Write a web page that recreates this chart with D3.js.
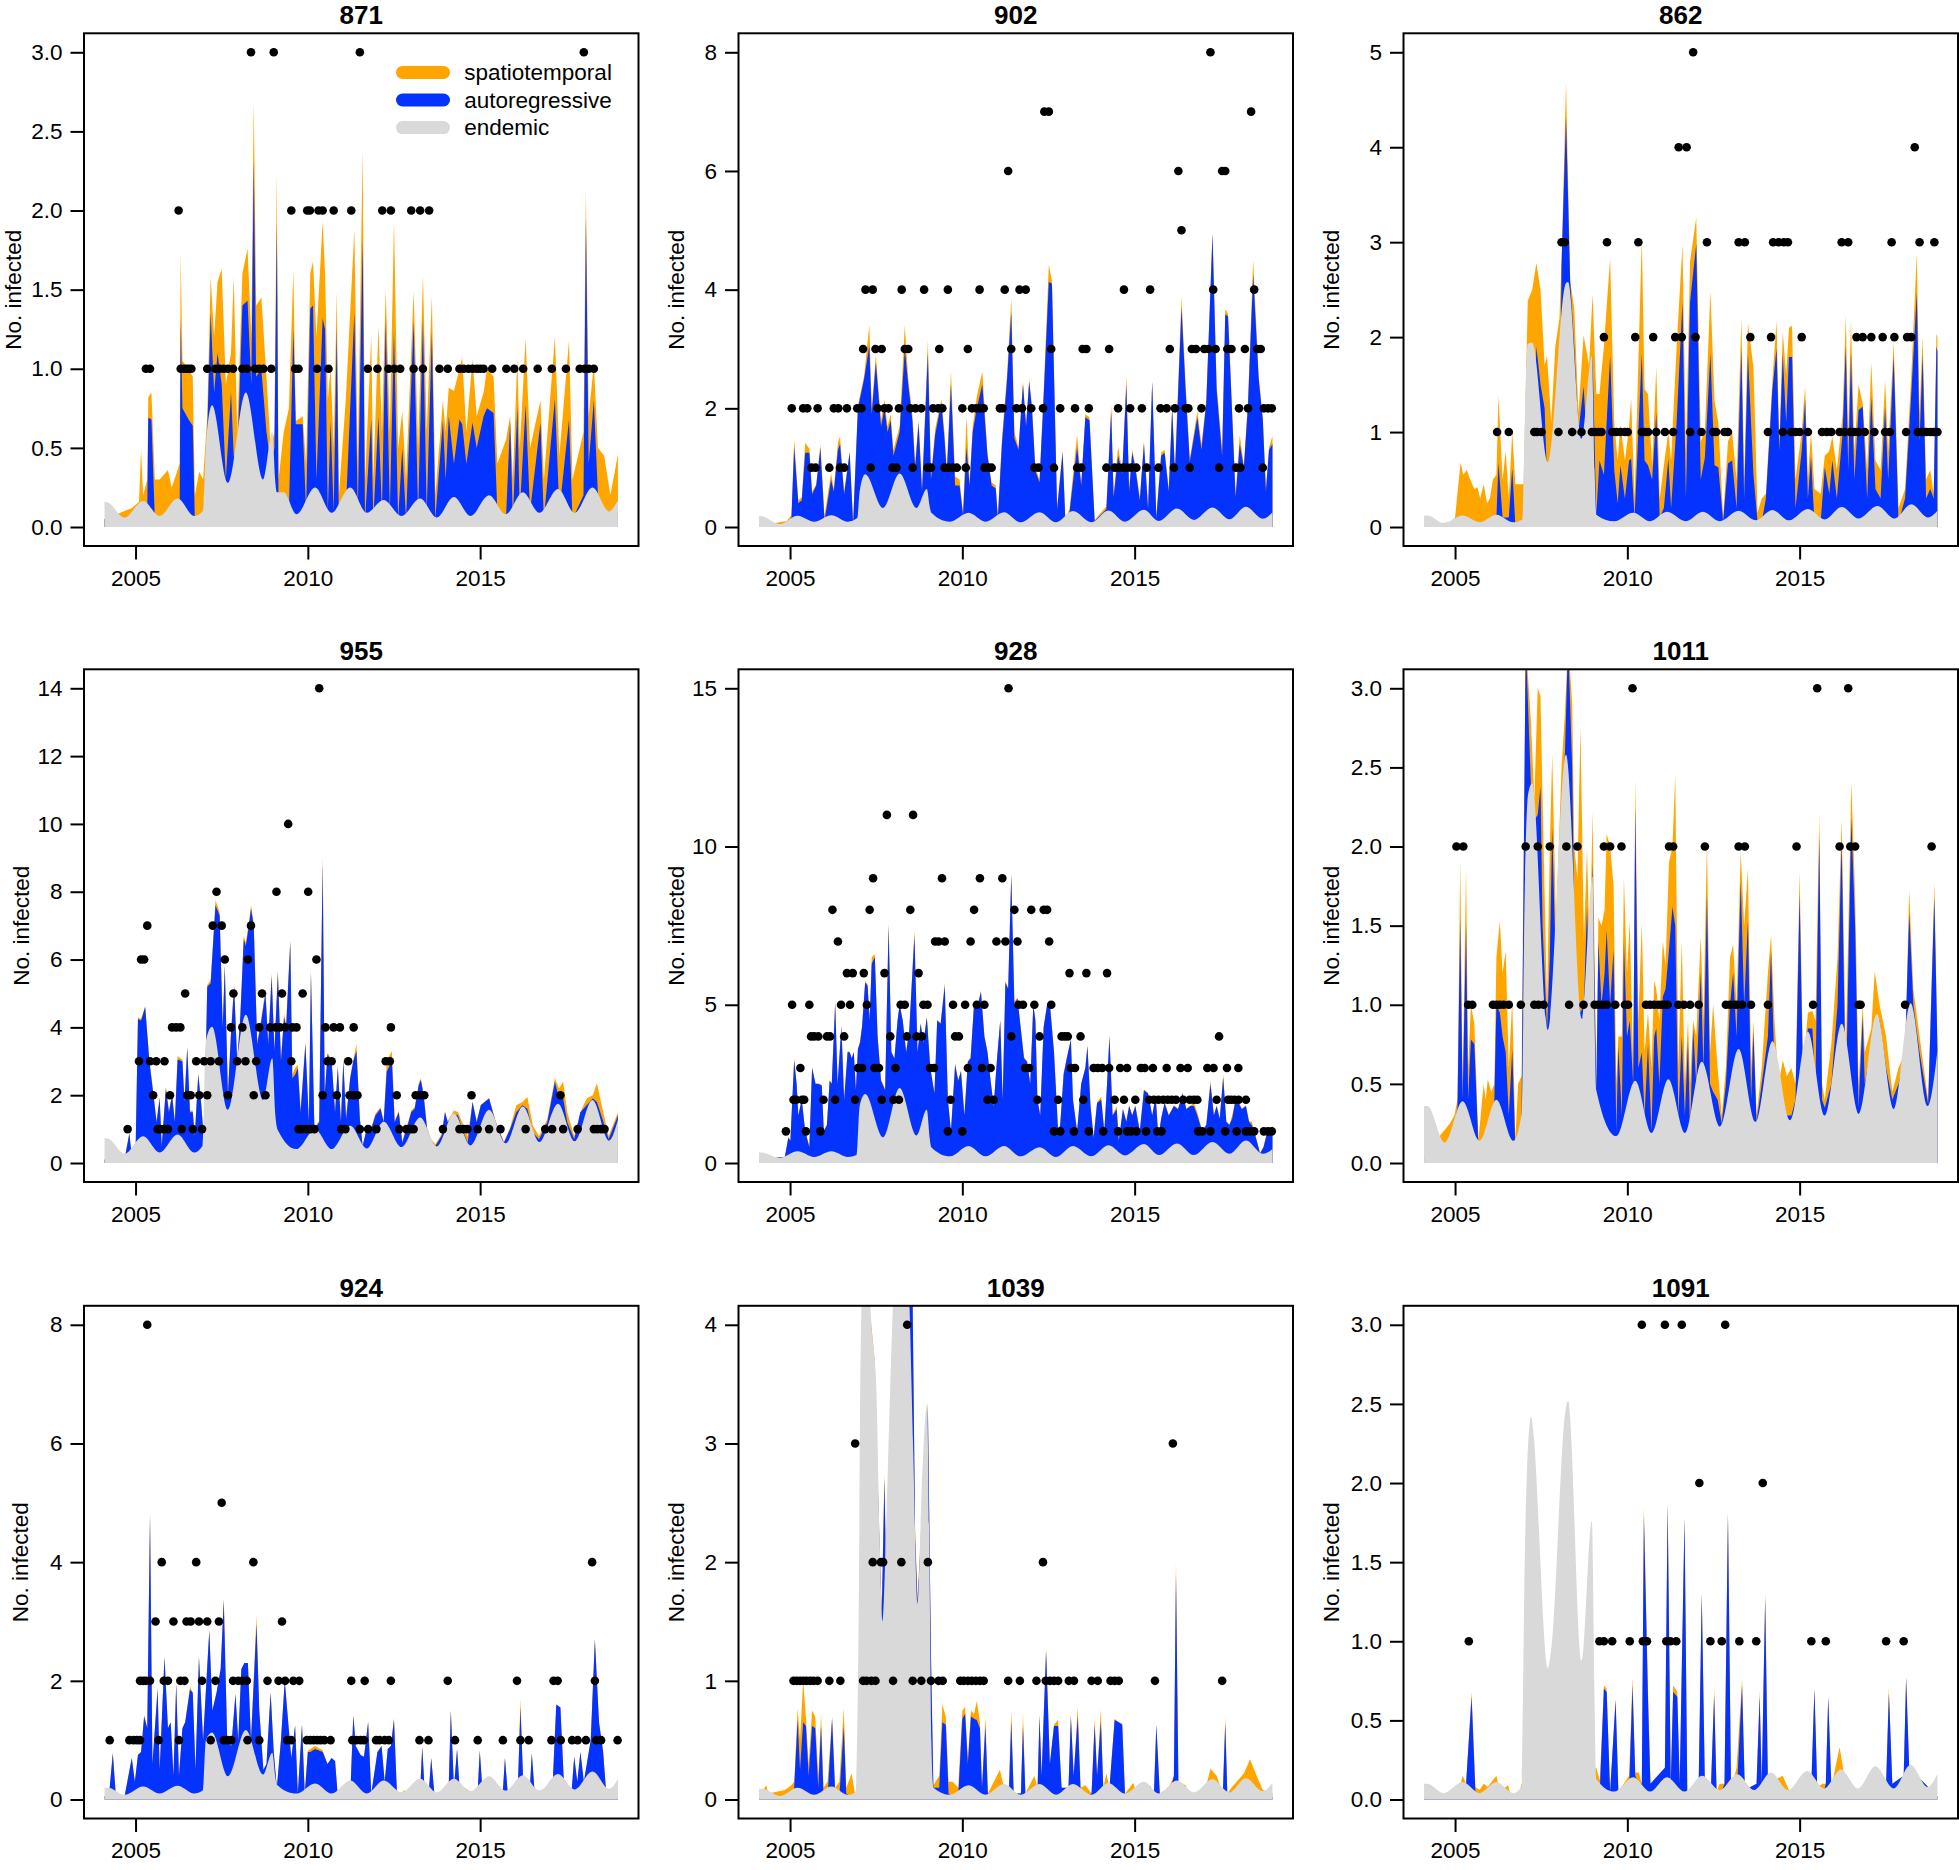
<!DOCTYPE html>
<html><head><meta charset="utf-8">
<script src="https://cdn.jsdelivr.net/npm/d3@7"></script>
<style>
body{margin:0;background:#fff}
svg{display:block}
text{font-family:"Liberation Sans",Arial,Helvetica,sans-serif;fill:#000}
</style>
</head><body>
<svg id="chart" width="1959" height="1870"></svg>
<script>
// ---------------- DATA ----------------
// endemic component: [year, value]
const endemic871=[[2004.1,0.16],[2004.2,0.155],[2004.68,0.06],[2005.22,0.165],[2005.7,0.07],[2006.22,0.18],[2006.7,0.07],[2006.95,0.1],[2007.05,0.55],[2007.22,0.77],[2007.68,0.28],[2008.2,0.85],[2008.7,0.3],[2008.97,0.6],[2009.05,0.3],[2009.1,0.22],[2009.3,0.22],[2009.67,0.08],[2010.21,0.25],[2010.69,0.09],[2011.23,0.25],[2011.71,0.09],[2012.2,0.17],[2012.72,0.07],[2013.26,0.18],[2013.74,0.06],[2014.24,0.19],[2014.72,0.07],[2015.26,0.2],[2015.74,0.08],[2016.24,0.22],[2016.72,0.09],[2017.26,0.24],[2017.74,0.09],[2018.26,0.25],[2018.74,0.1],[2019.0,0.17]];
const endemic902=[[2004.1,0.19],[2004.2,0.18],[2004.7,0.05],[2005.22,0.19],[2005.7,0.09],[2006.2,0.2],[2006.68,0.09],[2006.95,0.15],[2007.02,0.6],[2007.18,0.89],[2007.7,0.32],[2008.18,0.9],[2008.67,0.32],[2008.97,0.64],[2009.05,0.35],[2009.1,0.24],[2009.64,0.09],[2010.18,0.24],[2010.67,0.09],[2011.21,0.25],[2011.69,0.08],[2012.24,0.25],[2012.72,0.08],[2013.21,0.27],[2013.75,0.08],[2014.24,0.28],[2014.72,0.09],[2015.27,0.29],[2015.7,0.1],[2016.23,0.31],[2016.72,0.12],[2017.26,0.33],[2017.75,0.13],[2018.23,0.34],[2018.72,0.14],[2019.0,0.25]];
const endemic862=[[2004.1,0.12],[2004.2,0.12],[2004.67,0.04],[2005.22,0.12],[2005.71,0.05],[2006.2,0.13],[2006.69,0.05],[2006.95,0.08],[2007.03,1.2],[2007.11,1.93],[2007.24,1.94],[2007.69,0.68],[2008.22,2.57],[2008.28,2.58],[2008.67,0.93],[2008.97,1.8],[2009.05,0.6],[2009.1,0.13],[2009.62,0.06],[2010.17,0.15],[2010.66,0.06],[2011.15,0.16],[2011.7,0.06],[2012.19,0.16],[2012.68,0.06],[2013.23,0.17],[2013.72,0.07],[2014.21,0.18],[2014.69,0.07],[2015.24,0.19],[2015.73,0.08],[2016.22,0.21],[2016.71,0.09],[2017.26,0.22],[2017.75,0.09],[2018.24,0.24],[2018.73,0.1],[2019.0,0.17]];
const endemic955=[[2004.1,0.73],[2004.2,0.72],[2004.68,0.27],[2005.22,0.79],[2005.7,0.31],[2006.22,0.84],[2006.7,0.31],[2006.95,0.52],[2007.04,3.6],[2007.22,4.02],[2007.68,1.57],[2008.2,4.37],[2008.7,1.86],[2008.97,3.09],[2009.05,1.5],[2009.12,0.99],[2009.67,0.41],[2010.21,0.99],[2010.69,0.41],[2011.23,1.1],[2011.71,0.43],[2012.2,1.22],[2012.72,0.47],[2013.26,1.34],[2013.74,0.49],[2014.24,1.46],[2014.72,0.52],[2015.26,1.57],[2015.74,0.58],[2016.24,1.67],[2016.72,0.62],[2017.26,1.75],[2017.74,0.64],[2018.26,1.86],[2018.74,0.66],[2019.0,1.28]];
const endemic928=[[2004.1,0.34],[2004.2,0.33],[2004.7,0.16],[2005.22,0.37],[2005.7,0.19],[2006.2,0.37],[2006.68,0.19],[2006.93,0.25],[2007.02,1.8],[2007.18,2.18],[2007.7,0.81],[2008.18,2.37],[2008.67,0.87],[2008.97,1.68],[2009.05,0.8],[2009.1,0.5],[2009.64,0.21],[2010.18,0.54],[2010.67,0.21],[2011.21,0.54],[2011.69,0.21],[2012.24,0.5],[2012.72,0.19],[2013.21,0.54],[2013.75,0.21],[2014.24,0.56],[2014.72,0.24],[2015.27,0.6],[2015.7,0.25],[2016.23,0.62],[2016.72,0.25],[2017.26,0.66],[2017.75,0.29],[2018.23,0.71],[2018.72,0.29],[2019.0,0.44]];
const endemic1011=[[2004.1,0.36],[2004.2,0.36],[2004.7,0.13],[2005.22,0.39],[2005.71,0.14],[2006.2,0.4],[2006.69,0.14],[2006.93,0.31],[2007.03,1.8],[2007.12,2.33],[2007.24,2.4],[2007.69,0.84],[2008.22,2.58],[2008.68,0.91],[2008.99,1.81],[2009.05,0.9],[2009.1,0.46],[2009.68,0.17],[2010.23,0.52],[2010.7,0.19],[2011.19,0.53],[2011.67,0.19],[2012.16,0.64],[2012.69,0.23],[2013.23,0.72],[2013.72,0.26],[2014.21,0.77],[2014.72,0.27],[2015.24,0.83],[2015.73,0.3],[2016.22,0.88],[2016.72,0.31],[2017.24,0.94],[2017.73,0.34],[2018.22,1.01],[2018.71,0.36],[2019.0,0.71]];
const endemic924=[[2004.1,0.2],[2004.2,0.2],[2004.68,0.08],[2005.22,0.22],[2005.7,0.1],[2006.22,0.23],[2006.7,0.1],[2006.95,0.15],[2007.04,1.0],[2007.22,1.13],[2007.68,0.39],[2008.2,1.17],[2008.7,0.42],[2008.97,0.79],[2009.05,0.4],[2009.1,0.25],[2009.67,0.1],[2010.21,0.27],[2010.69,0.1],[2011.23,0.32],[2011.71,0.1],[2012.2,0.32],[2012.72,0.12],[2013.26,0.35],[2013.74,0.12],[2014.24,0.35],[2014.72,0.14],[2015.26,0.39],[2015.74,0.15],[2016.24,0.41],[2016.72,0.15],[2017.26,0.43],[2017.74,0.17],[2018.26,0.47],[2018.74,0.18],[2019.0,0.35]];
const endemic1039=[[2004.1,0.09],[2004.2,0.09],[2004.7,0.03],[2005.22,0.1],[2005.7,0.04],[2006.2,0.11],[2006.68,0.04],[2006.9,0.06],[2006.99,1.5],[2007.05,3.8],[2007.15,4.7],[2007.25,4.6],[2007.36,4.0],[2007.5,3.5],[2007.6,2.2],[2007.68,1.5],[2007.8,2.4],[2007.92,3.6],[2008.1,4.8],[2008.3,4.9],[2008.45,4.3],[2008.57,3.0],[2008.7,1.65],[2008.82,2.6],[2008.98,3.33],[2009.04,2.2],[2009.1,0.5],[2009.16,0.1],[2009.64,0.04],[2010.18,0.12],[2010.67,0.04],[2011.21,0.13],[2011.69,0.04],[2012.24,0.13],[2012.72,0.04],[2013.21,0.13],[2013.75,0.04],[2014.24,0.14],[2014.72,0.05],[2015.27,0.15],[2015.7,0.05],[2016.23,0.16],[2016.72,0.06],[2017.26,0.17],[2017.75,0.06],[2018.23,0.18],[2018.72,0.07],[2019.0,0.14]];
const endemic1091=[[2004.1,0.1],[2004.2,0.1],[2004.67,0.04],[2005.22,0.11],[2005.71,0.04],[2006.2,0.11],[2006.69,0.04],[2006.93,0.08],[2007.03,1.6],[2007.11,2.2],[2007.21,2.42],[2007.28,2.3],[2007.69,0.83],[2007.79,0.95],[2008.2,2.45],[2008.28,2.52],[2008.67,0.88],[2008.97,1.76],[2009.05,0.6],[2009.1,0.13],[2009.62,0.05],[2010.17,0.14],[2010.66,0.05],[2011.15,0.14],[2011.66,0.05],[2012.17,0.15],[2012.68,0.06],[2013.19,0.16],[2013.68,0.06],[2014.17,0.17],[2014.66,0.06],[2015.22,0.18],[2015.71,0.07],[2016.2,0.19],[2016.69,0.07],[2017.2,0.21],[2017.73,0.07],[2018.22,0.22],[2018.71,0.08],[2019.0,0.16]];

// stacked upper edges: [year, endemic+autoregressive, endemic+autoregressive+spatiotemporal]
const upper871=[[2004.1,0.05,0.05],[2004.9,0.06,0.12],[2005.1,0.08,0.16],[2005.16,0.1,0.49],[2005.22,0.1,0.2],[2005.34,0.1,0.3],[2005.37,0.69,0.82],[2005.46,0.68,0.85],[2005.56,0.05,0.3],[2005.7,0.05,0.3],[2005.94,0.05,0.36],[2006.05,0.05,0.25],[2006.28,0.1,0.4],[2006.31,1.31,1.73],[2006.36,0.75,1.05],[2006.54,0.68,1.0],[2006.66,0.64,0.95],[2006.72,0.05,0.2],[2006.85,0.05,0.35],[2006.96,0.05,0.3],[2007.08,0.6,0.7],[2007.18,1.35,1.58],[2007.28,0.85,1.2],[2007.38,1.1,1.55],[2007.5,0.9,1.63],[2007.62,0.3,0.9],[2007.77,0.85,1.1],[2007.85,0.45,1.58],[2007.95,0.4,0.6],[2008.1,1.4,1.6],[2008.25,1.43,1.76],[2008.36,0.9,1.2],[2008.43,2.32,2.69],[2008.5,0.95,1.4],[2008.65,1.0,1.45],[2008.8,0.6,0.95],[2008.92,0.4,0.5],[2009.03,0.5,0.6],[2009.1,1.92,2.25],[2009.15,0.1,0.3],[2009.3,0.1,0.6],[2009.45,0.1,0.75],[2009.58,1.25,1.62],[2009.65,0.65,0.67],[2009.85,0.65,0.7],[2009.95,0.1,0.4],[2010.07,1.38,1.6],[2010.15,1.4,1.68],[2010.25,0.3,1.2],[2010.43,1.32,1.93],[2010.5,1.25,1.6],[2010.58,0.1,0.8],[2010.66,0.67,1.0],[2010.75,0.1,0.5],[2010.84,1.26,1.49],[2010.9,0.05,0.2],[2011.1,0.1,0.8],[2011.35,1.36,1.88],[2011.45,0.1,0.4],[2011.59,1.83,2.38],[2011.66,0.05,0.3],[2011.84,0.68,1.2],[2011.9,0.05,0.3],[2012.05,0.7,1.27],[2012.15,0.1,0.6],[2012.26,1.31,1.5],[2012.38,0.1,0.6],[2012.5,1.24,1.93],[2012.62,0.05,0.5],[2012.74,0.5,0.73],[2012.85,0.05,0.3],[2013.07,1.3,1.49],[2013.2,0.1,0.5],[2013.34,1.31,1.59],[2013.45,0.1,0.6],[2013.6,1.23,1.46],[2013.7,0.05,0.2],[2013.92,0.67,0.8],[2014.0,0.3,0.6],[2014.09,0.7,0.88],[2014.24,0.4,0.86],[2014.4,0.68,1.0],[2014.48,0.65,1.07],[2014.6,0.4,0.6],[2014.78,0.66,1.06],[2014.9,0.5,0.7],[2015.1,0.7,0.85],[2015.2,0.75,1.0],[2015.39,0.72,0.95],[2015.5,0.1,0.4],[2015.75,0.05,0.55],[2015.87,0.67,0.7],[2015.95,0.05,0.3],[2016.08,0.76,1.07],[2016.15,0.1,0.5],[2016.32,0.77,1.19],[2016.45,0.1,0.5],[2016.75,0.66,0.8],[2016.85,0.05,0.3],[2017.17,0.81,1.2],[2017.3,0.1,0.45],[2017.58,0.68,1.18],[2017.68,0.05,0.3],[2018.0,0.2,0.6],[2018.07,1.95,2.13],[2018.15,0.4,0.7],[2018.3,0.8,1.03],[2018.42,0.2,0.5],[2018.6,0.1,0.45],[2018.78,0.1,0.2],[2019.0,0.1,0.46]];
const upper902=[[2004.1,0.02,0.02],[2004.9,0.05,0.1],[2005.04,0.15,0.2],[2005.12,1.35,1.48],[2005.24,0.4,0.45],[2005.34,0.45,0.5],[2005.44,1.25,1.42],[2005.56,1.25,1.32],[2005.64,0.55,0.6],[2005.76,0.7,0.72],[2005.88,1.33,1.39],[2006.0,0.1,0.2],[2006.19,0.8,0.9],[2006.27,0.6,0.65],[2006.39,1.3,1.42],[2006.45,1.4,1.53],[2006.57,0.55,0.6],[2006.73,1.25,1.28],[2006.83,0.05,0.1],[2006.97,2.0,2.05],[2007.15,2.5,2.55],[2007.3,3.05,3.4],[2007.37,1.9,2.0],[2007.49,2.77,2.9],[2007.64,1.7,1.8],[2007.74,2.0,2.15],[2007.83,1.6,1.7],[2007.92,1.8,1.9],[2008.0,1.2,1.3],[2008.18,1.6,1.7],[2008.33,3.0,3.4],[2008.43,2.4,2.5],[2008.55,1.8,1.9],[2008.63,1.0,1.1],[2008.73,1.75,1.8],[2008.83,0.6,0.65],[2009.0,2.93,3.15],[2009.09,0.8,0.85],[2009.21,1.55,1.65],[2009.39,2.1,2.15],[2009.48,1.5,1.6],[2009.55,0.9,1.0],[2009.67,2.4,2.62],[2009.79,0.7,0.85],[2009.92,0.7,0.8],[2010.02,0.2,0.25],[2010.12,1.35,1.87],[2010.21,0.7,0.75],[2010.3,1.6,1.7],[2010.42,2.0,2.2],[2010.58,2.4,2.62],[2010.73,1.2,1.25],[2010.85,0.7,0.75],[2010.97,0.65,0.7],[2011.03,0.15,0.2],[2011.15,1.4,1.5],[2011.3,2.5,2.6],[2011.42,3.62,3.85],[2011.51,1.5,1.6],[2011.63,1.3,1.35],[2011.76,2.4,2.45],[2011.85,1.7,1.75],[2011.94,2.45,2.5],[2012.02,2.0,2.05],[2012.12,0.95,1.0],[2012.24,0.75,0.8],[2012.36,2.2,2.3],[2012.51,4.13,4.42],[2012.6,4.1,4.15],[2012.75,0.3,0.35],[2012.91,1.25,1.3],[2012.99,0.1,0.15],[2013.11,0.25,0.3],[2013.33,1.35,1.55],[2013.45,0.7,0.75],[2013.57,1.85,1.9],[2013.69,1.8,1.85],[2013.84,0.1,0.12],[2014.18,0.3,0.35],[2014.32,1.95,2.05],[2014.39,0.5,0.55],[2014.52,1.2,1.35],[2014.64,0.9,0.95],[2014.76,2.4,2.55],[2014.84,0.6,0.65],[2014.93,1.25,1.3],[2015.02,1.0,1.05],[2015.15,0.45,0.5],[2015.27,1.4,1.45],[2015.39,0.3,0.35],[2015.51,2.45,2.45],[2015.63,0.15,0.18],[2015.77,1.2,1.25],[2015.87,1.25,1.3],[2015.99,0.6,0.65],[2016.09,2.0,2.05],[2016.17,0.9,1.0],[2016.36,3.7,3.88],[2016.48,2.3,2.4],[2016.6,1.1,1.15],[2016.82,1.85,1.95],[2016.94,1.3,1.4],[2017.08,2.1,2.15],[2017.26,4.93,4.97],[2017.38,2.3,2.4],[2017.54,1.2,1.3],[2017.63,3.58,3.67],[2017.71,3.55,3.6],[2017.83,1.9,1.95],[2017.93,0.5,0.55],[2018.05,1.4,1.55],[2018.17,1.0,1.05],[2018.29,2.05,2.15],[2018.44,4.25,4.5],[2018.6,2.5,2.55],[2018.72,1.8,1.85],[2018.81,0.6,0.65],[2018.9,1.3,1.35],[2019.0,1.4,1.53]];
const upper862=[[2004.1,0.02,0.02],[2004.85,0.02,0.05],[2005.0,0.02,0.1],[2005.16,0.02,0.68],[2005.24,0.02,0.55],[2005.34,0.02,0.6],[2005.44,0.02,0.5],[2005.56,0.02,0.4],[2005.65,0.02,0.42],[2005.73,0.02,0.3],[2005.83,0.02,0.45],[2005.93,0.02,0.25],[2006.01,0.02,0.3],[2006.1,0.02,0.5],[2006.2,0.1,0.55],[2006.26,0.68,1.38],[2006.38,0.1,0.5],[2006.47,0.1,0.8],[2006.56,0.1,0.3],[2006.66,0.62,1.0],[2006.75,0.02,0.45],[2006.93,0.02,0.45],[2006.99,0.02,0.45],[2007.11,0.5,2.38],[2007.24,0.5,2.5],[2007.36,1.9,2.78],[2007.48,1.5,2.5],[2007.6,1.25,1.7],[2007.67,0.5,1.8],[2007.79,0.5,1.1],[2007.91,0.5,1.9],[2008.03,0.5,2.2],[2008.09,2.75,2.8],[2008.22,4.32,4.68],[2008.34,2.6,2.6],[2008.46,1.9,2.3],[2008.58,1.0,1.2],[2008.73,1.48,2.02],[2008.89,0.5,1.7],[2008.99,1.8,2.45],[2009.1,0.13,1.4],[2009.19,0.7,1.4],[2009.32,0.55,1.9],[2009.5,1.8,2.83],[2009.62,0.6,1.1],[2009.72,0.25,0.7],[2009.8,0.65,1.08],[2009.93,0.3,0.7],[2010.05,0.7,1.05],[2010.11,0.72,1.35],[2010.21,0.1,0.3],[2010.42,1.83,3.05],[2010.5,0.7,1.45],[2010.6,0.65,1.4],[2010.72,0.5,0.65],[2010.84,1.2,1.68],[2010.94,0.1,0.3],[2011.06,0.2,0.65],[2011.19,0.72,1.0],[2011.27,0.2,0.7],[2011.43,1.1,1.9],[2011.6,2.37,2.97],[2011.7,0.3,0.8],[2011.82,2.37,2.8],[2012.0,2.98,3.26],[2012.13,0.5,0.9],[2012.25,0.73,1.0],[2012.41,1.83,2.48],[2012.53,0.65,1.33],[2012.64,0.63,1.1],[2012.78,0.06,0.1],[2012.92,0.67,0.9],[2013.04,0.7,1.0],[2013.17,0.2,0.5],[2013.31,1.88,2.2],[2013.39,0.3,0.5],[2013.5,1.82,2.15],[2013.66,0.55,1.68],[2013.78,0.05,0.15],[2013.9,0.05,0.3],[2014.02,0.3,0.35],[2014.21,1.45,1.55],[2014.33,1.88,2.17],[2014.41,0.8,0.9],[2014.51,1.82,2.05],[2014.61,1.1,1.6],[2014.69,1.79,2.1],[2014.78,1.79,2.12],[2014.88,0.2,0.5],[2015.06,0.8,1.0],[2015.16,1.34,1.48],[2015.24,0.3,0.5],[2015.33,0.74,1.0],[2015.43,0.05,0.4],[2015.61,0.05,0.35],[2015.73,0.63,0.75],[2015.86,0.35,0.8],[2015.95,0.7,0.95],[2016.08,0.3,0.6],[2016.25,1.0,1.2],[2016.34,1.9,2.23],[2016.41,0.6,1.0],[2016.49,1.83,2.17],[2016.59,0.5,0.8],[2016.71,1.23,1.5],[2016.83,1.27,1.3],[2016.96,0.3,0.6],[2017.08,1.37,1.73],[2017.2,0.4,0.7],[2017.35,0.3,0.6],[2017.48,1.27,1.54],[2017.57,0.5,0.8],[2017.73,1.8,1.95],[2017.87,0.05,0.2],[2018.06,0.3,0.4],[2018.24,1.4,1.6],[2018.4,2.47,2.88],[2018.48,0.9,1.2],[2018.57,1.82,2.0],[2018.67,0.3,0.5],[2018.79,0.4,0.6],[2018.89,0.3,0.35],[2018.97,1.9,2.03],[2019.0,1.85,2.0]];
const upper955=[[2004.1,0.1,0.1],[2004.68,0.1,0.1],[2004.82,0.87,0.9],[2004.89,0.2,0.2],[2005.0,0.3,0.3],[2005.07,4.25,4.3],[2005.16,4.2,4.25],[2005.28,4.6,4.62],[2005.4,3.0,3.05],[2005.52,2.0,2.05],[2005.61,1.2,1.25],[2005.7,1.9,1.95],[2005.76,0.5,0.5],[2005.88,2.2,2.25],[2005.97,1.5,1.55],[2006.06,2.0,2.05],[2006.14,1.2,1.25],[2006.22,3.05,3.15],[2006.36,3.0,3.05],[2006.42,1.8,1.85],[2006.5,3.4,3.45],[2006.58,1.5,1.55],[2006.66,1.5,1.55],[2006.72,0.8,0.85],[2006.82,2.6,2.65],[2006.9,1.8,1.85],[2006.99,0.6,0.65],[2007.08,5.2,5.25],[2007.18,5.3,5.4],[2007.32,7.6,7.75],[2007.44,7.3,7.4],[2007.53,4.0,4.1],[2007.59,5.8,5.9],[2007.68,2.0,2.05],[2007.77,3.8,3.9],[2007.86,5.2,5.3],[2007.95,3.0,3.05],[2008.04,4.3,4.35],[2008.14,6.6,6.7],[2008.2,6.4,6.5],[2008.29,7.0,7.1],[2008.35,7.5,7.6],[2008.43,7.0,7.1],[2008.53,3.5,3.6],[2008.62,4.0,4.1],[2008.77,5.0,5.1],[2008.85,3.5,3.6],[2008.95,5.5,5.6],[2009.03,3.3,3.4],[2009.13,5.6,5.7],[2009.22,3.0,3.1],[2009.31,4.3,4.4],[2009.37,4.0,4.1],[2009.49,6.5,6.6],[2009.55,2.5,2.6],[2009.63,2.6,2.8],[2009.71,2.8,2.9],[2009.79,1.5,1.6],[2009.93,3.5,3.6],[2010.03,1.2,1.25],[2010.09,5.6,5.7],[2010.19,1.0,1.05],[2010.33,1.2,1.25],[2010.43,8.85,9.05],[2010.49,2.0,2.05],[2010.57,3.2,3.25],[2010.69,3.0,3.05],[2010.79,1.5,1.55],[2010.87,2.8,2.9],[2010.96,1.2,1.25],[2011.03,3.0,3.05],[2011.11,1.3,1.35],[2011.23,2.5,2.55],[2011.32,3.0,3.05],[2011.41,3.3,3.5],[2011.51,1.3,1.35],[2011.59,0.5,0.5],[2011.71,1.0,1.05],[2011.81,0.9,0.95],[2011.96,1.4,1.45],[2012.11,1.6,1.65],[2012.2,1.2,1.25],[2012.29,2.7,3.0],[2012.44,3.0,3.3],[2012.52,1.2,1.25],[2012.64,1.5,1.55],[2012.74,0.6,0.65],[2012.92,1.2,1.25],[2013.0,1.5,1.55],[2013.1,1.6,1.65],[2013.22,2.3,2.35],[2013.28,2.45,2.5],[2013.36,2.0,2.05],[2013.46,1.0,1.05],[2013.58,0.6,0.7],[2013.7,0.5,0.55],[2013.88,0.8,0.85],[2013.98,1.5,1.52],[2014.06,1.2,1.25],[2014.24,1.45,1.55],[2014.36,1.4,1.5],[2014.48,1.0,1.2],[2014.64,0.6,0.8],[2014.78,1.8,1.82],[2014.9,1.2,1.25],[2015.02,1.7,1.72],[2015.26,1.9,1.92],[2015.45,1.2,1.25],[2015.69,0.6,0.62],[2015.87,1.0,1.05],[2016.05,1.5,1.7],[2016.23,1.7,1.8],[2016.37,1.6,1.95],[2016.53,0.9,1.1],[2016.71,0.7,0.8],[2016.95,1.2,1.3],[2017.17,2.4,2.5],[2017.29,1.9,2.2],[2017.41,1.9,2.4],[2017.53,1.2,1.5],[2017.73,0.7,0.8],[2017.91,1.5,1.5],[2018.09,1.7,1.9],[2018.27,1.9,2.0],[2018.39,1.8,2.35],[2018.55,1.3,1.6],[2018.73,0.7,0.8],[2019.0,1.4,1.5]];
const upper928=[[2004.1,0.1,0.1],[2004.85,0.2,0.2],[2004.95,0.8,0.82],[2005.01,0.7,0.72],[2005.12,3.25,3.3],[2005.19,2.5,2.52],[2005.24,1.5,1.52],[2005.34,2.0,2.02],[2005.44,1.0,1.02],[2005.56,0.5,0.52],[2005.64,3.0,3.02],[2005.74,2.5,2.52],[2005.82,2.5,2.52],[2005.92,2.45,2.47],[2005.98,1.0,1.02],[2006.07,1.2,1.22],[2006.15,2.6,2.62],[2006.21,2.5,2.52],[2006.31,5.05,5.15],[2006.38,2.5,2.52],[2006.49,4.3,4.35],[2006.57,2.0,2.02],[2006.67,3.5,3.52],[2006.73,3.5,3.52],[2006.79,3.3,3.32],[2006.85,3.5,3.52],[2006.91,2.3,2.32],[2006.97,3.6,3.62],[2007.03,3.8,3.85],[2007.09,4.3,4.35],[2007.18,5.7,5.75],[2007.25,5.6,5.65],[2007.31,4.5,4.55],[2007.37,6.3,6.5],[2007.46,6.5,6.6],[2007.54,4.0,4.05],[2007.64,2.6,2.65],[2007.76,2.3,2.35],[2007.86,7.5,7.55],[2007.94,3.5,3.52],[2008.03,3.3,3.32],[2008.12,4.5,4.52],[2008.18,5.0,5.02],[2008.27,4.5,4.52],[2008.37,3.5,3.52],[2008.46,4.2,4.22],[2008.61,7.2,7.35],[2008.7,3.5,3.52],[2008.79,4.4,4.42],[2008.87,3.8,3.82],[2008.97,4.6,4.62],[2009.07,3.0,3.02],[2009.19,2.2,2.22],[2009.27,4.5,4.52],[2009.37,4.4,4.42],[2009.49,5.6,5.7],[2009.58,2.0,2.02],[2009.67,1.0,1.02],[2009.79,3.1,3.15],[2009.88,2.6,2.62],[2009.96,2.9,2.92],[2010.06,1.5,1.52],[2010.16,3.2,3.22],[2010.24,3.3,3.35],[2010.34,5.0,5.1],[2010.45,5.0,5.02],[2010.54,5.4,5.45],[2010.64,4.0,4.02],[2010.73,3.5,3.52],[2010.82,2.6,2.62],[2010.91,1.8,1.82],[2011.0,3.2,3.22],[2011.1,4.5,4.52],[2011.17,2.0,2.02],[2011.25,5.7,5.75],[2011.33,5.5,5.52],[2011.42,9.1,9.15],[2011.51,5.0,5.1],[2011.6,5.2,5.22],[2011.69,4.3,4.32],[2011.79,3.3,3.35],[2011.88,3.2,3.22],[2011.97,2.5,2.52],[2012.06,5.0,5.02],[2012.12,4.5,4.52],[2012.18,2.0,2.02],[2012.26,1.5,1.52],[2012.36,4.3,4.32],[2012.46,5.0,5.02],[2012.54,5.0,5.1],[2012.66,3.5,3.52],[2012.78,1.0,1.02],[2012.84,1.2,1.22],[2012.94,2.8,2.85],[2013.03,3.3,3.32],[2013.15,3.9,3.92],[2013.21,2.0,2.02],[2013.33,1.0,1.02],[2013.45,2.5,2.52],[2013.57,3.0,3.02],[2013.63,3.7,3.72],[2013.72,1.8,1.82],[2013.81,0.8,0.82],[2013.91,1.9,1.92],[2014.03,2.0,2.1],[2014.12,1.0,1.02],[2014.2,2.5,2.52],[2014.27,4.0,4.05],[2014.36,1.5,1.52],[2014.48,1.7,1.8],[2014.54,0.7,0.72],[2014.66,1.7,1.72],[2014.76,1.3,1.32],[2014.84,1.8,1.82],[2014.93,1.5,1.52],[2015.02,1.8,1.82],[2015.15,1.0,1.02],[2015.27,2.3,2.32],[2015.39,2.2,2.22],[2015.51,1.5,1.52],[2015.61,2.1,2.12],[2015.69,0.8,0.82],[2015.77,1.4,1.42],[2015.87,1.9,1.92],[2015.99,1.5,1.52],[2016.14,1.8,1.82],[2016.26,1.7,1.72],[2016.39,2.2,2.22],[2016.5,1.7,1.72],[2016.62,1.8,1.82],[2016.72,1.8,1.9],[2016.82,1.5,1.6],[2016.96,1.0,1.02],[2017.08,1.2,1.22],[2017.2,2.5,2.6],[2017.3,1.5,1.52],[2017.38,1.8,1.82],[2017.47,1.4,1.42],[2017.57,2.7,2.8],[2017.66,1.3,1.32],[2017.75,1.2,1.22],[2017.83,1.4,1.5],[2017.93,2.0,2.02],[2018.02,1.9,1.92],[2018.11,1.7,1.72],[2018.23,1.8,1.82],[2018.32,1.3,1.32],[2018.4,1.2,1.3],[2018.52,0.8,0.82],[2018.64,0.3,0.32],[2018.74,0.5,0.52],[2018.86,1.0,1.1],[2018.95,1.0,1.02],[2019.0,1.1,1.2]];
const upper1011=[[2004.1,0.05,0.05],[2004.85,0.05,0.25],[2004.98,0.25,0.3],[2005.07,0.35,0.4],[2005.15,1.54,1.91],[2005.22,0.4,0.5],[2005.32,1.5,1.86],[2005.38,0.4,0.6],[2005.46,0.78,1.0],[2005.56,0.75,0.88],[2005.68,0.1,0.15],[2005.83,0.1,0.5],[2005.89,0.1,0.4],[2005.95,0.1,0.53],[2006.05,0.1,0.45],[2006.14,0.4,0.5],[2006.2,1.0,1.3],[2006.3,0.95,1.53],[2006.38,0.8,1.2],[2006.47,0.7,1.34],[2006.56,0.3,0.6],[2006.66,0.72,1.03],[2006.75,0.1,0.15],[2006.83,0.1,0.5],[2006.93,0.3,0.55],[2007.05,3.3,3.3],[2007.2,2.4,2.8],[2007.3,2.17,2.3],[2007.4,2.2,3.0],[2007.48,2.38,2.95],[2007.54,1.5,2.3],[2007.67,0.84,1.0],[2007.75,1.3,2.0],[2007.82,2.12,2.58],[2007.93,1.2,1.5],[2008.09,2.0,2.5],[2008.19,2.6,2.85],[2008.28,3.3,3.3],[2008.4,2.5,2.9],[2008.46,1.5,2.0],[2008.55,1.1,1.8],[2008.64,0.95,2.75],[2008.74,1.0,1.4],[2008.83,1.62,1.98],[2008.91,0.9,1.3],[2008.99,1.9,2.22],[2009.1,0.46,0.5],[2009.16,1.4,1.55],[2009.25,1.0,1.5],[2009.34,1.2,1.6],[2009.4,1.47,2.08],[2009.5,1.0,2.0],[2009.6,1.35,1.75],[2009.68,0.2,0.5],[2009.74,0.74,0.8],[2009.84,0.3,0.8],[2009.9,1.4,1.8],[2009.99,0.8,1.2],[2010.07,0.9,1.53],[2010.17,0.5,0.6],[2010.23,2.25,2.43],[2010.32,0.6,0.9],[2010.42,0.7,1.52],[2010.5,0.3,0.7],[2010.6,0.75,0.95],[2010.7,0.2,0.6],[2010.78,0.8,1.15],[2010.84,0.85,1.1],[2010.93,0.5,0.9],[2011.03,1.05,1.4],[2011.11,1.1,1.25],[2011.21,1.35,1.9],[2011.31,1.62,2.0],[2011.39,1.5,2.45],[2011.48,0.3,0.6],[2011.58,0.8,1.4],[2011.67,0.3,0.5],[2011.76,0.77,0.9],[2011.82,0.2,0.5],[2011.91,0.85,0.9],[2012.0,0.5,0.8],[2012.13,1.2,1.43],[2012.21,0.6,0.9],[2012.31,1.7,2.03],[2012.4,0.5,0.7],[2012.49,0.45,1.0],[2012.62,0.4,0.6],[2012.74,0.25,0.3],[2012.86,0.5,0.6],[2012.98,1.0,1.3],[2013.07,1.2,1.38],[2013.17,0.8,1.0],[2013.29,1.78,1.97],[2013.39,1.0,1.5],[2013.5,1.53,1.86],[2013.59,0.4,0.6],[2013.66,0.83,0.9],[2013.75,0.26,0.3],[2013.9,0.5,0.6],[2014.08,0.8,1.2],[2014.17,1.34,1.44],[2014.27,0.6,0.9],[2014.39,0.35,0.5],[2014.51,0.4,0.65],[2014.63,0.3,0.55],[2014.76,0.3,0.6],[2014.88,0.4,0.5],[2015.0,1.7,1.84],[2015.1,0.5,0.6],[2015.24,0.85,0.95],[2015.37,0.85,0.96],[2015.46,0.5,0.9],[2015.57,2.07,2.2],[2015.65,0.4,0.5],[2015.73,0.35,0.4],[2015.92,0.5,0.75],[2016.1,1.0,1.3],[2016.22,2.03,2.17],[2016.34,0.4,0.7],[2016.5,2.18,2.41],[2016.61,1.5,1.7],[2016.71,0.35,0.5],[2016.83,0.93,1.0],[2016.89,0.5,0.7],[2017.08,0.75,0.85],[2017.18,0.9,1.21],[2017.32,0.9,1.0],[2017.51,0.6,0.8],[2017.69,0.4,0.45],[2017.87,0.5,0.6],[2018.06,0.7,0.7],[2018.18,1.58,1.72],[2018.3,1.0,1.1],[2018.48,0.7,0.8],[2018.73,0.37,0.4],[2018.91,1.68,1.77],[2019.0,0.72,0.72]];
const upper924=[[2004.1,0.05,0.05],[2004.25,0.2,0.2],[2004.34,0.78,0.78],[2004.43,0.05,0.05],[2004.68,0.05,0.05],[2004.89,0.7,0.7],[2004.98,0.3,0.3],[2005.07,0.75,0.75],[2005.16,0.8,0.8],[2005.25,1.4,1.43],[2005.34,1.2,1.2],[2005.42,4.8,4.85],[2005.49,0.6,0.6],[2005.64,1.85,1.9],[2005.7,0.5,0.5],[2005.84,2.4,2.4],[2005.94,1.2,1.2],[2006.02,1.3,1.3],[2006.1,0.4,0.4],[2006.18,1.95,1.95],[2006.26,0.4,0.4],[2006.36,1.2,1.2],[2006.44,1.3,1.3],[2006.58,1.85,1.9],[2006.66,1.8,1.8],[2006.74,0.5,0.5],[2006.84,2.4,2.4],[2006.96,1.0,1.0],[2007.14,2.85,2.85],[2007.23,1.5,1.5],[2007.35,1.8,1.8],[2007.47,2.2,2.2],[2007.56,3.35,3.4],[2007.66,1.0,1.0],[2007.78,0.9,0.9],[2007.9,1.78,1.78],[2007.98,1.0,1.0],[2008.07,2.2,2.2],[2008.16,2.3,2.3],[2008.26,2.3,2.3],[2008.35,1.0,1.0],[2008.51,2.95,3.1],[2008.59,1.5,1.5],[2008.71,0.5,0.5],[2008.8,0.6,0.6],[2008.92,1.8,1.82],[2009.01,0.8,0.8],[2009.1,0.2,0.2],[2009.22,1.0,1.0],[2009.33,2.0,2.0],[2009.43,1.3,1.3],[2009.52,0.7,0.7],[2009.63,1.25,1.25],[2009.71,0.1,0.1],[2009.83,1.27,1.27],[2009.91,0.1,0.1],[2010.0,0.8,0.82],[2010.07,0.8,0.85],[2010.21,0.85,0.9],[2010.43,0.8,0.83],[2010.57,0.6,0.6],[2010.69,0.7,0.7],[2010.79,0.65,0.65],[2010.87,0.05,0.05],[2011.23,0.05,0.05],[2011.32,1.42,1.42],[2011.39,0.9,0.9],[2011.53,0.75,0.75],[2011.63,0.72,0.72],[2011.75,1.3,1.32],[2011.84,0.1,0.1],[2012.02,0.8,0.8],[2012.14,0.9,0.9],[2012.23,0.3,0.3],[2012.32,0.85,0.85],[2012.41,0.9,0.9],[2012.5,1.35,1.37],[2012.59,0.05,0.05],[2012.8,0.05,0.15],[2013.25,0.05,0.05],[2013.32,0.88,0.9],[2013.4,0.05,0.05],[2013.5,0.05,0.05],[2013.58,0.7,0.7],[2013.68,0.05,0.05],[2014.08,0.05,0.05],[2014.15,1.5,1.5],[2014.24,0.2,0.2],[2014.33,0.85,0.85],[2014.42,0.05,0.05],[2014.55,0.05,0.2],[2014.92,0.05,0.05],[2014.99,0.82,0.82],[2015.08,0.05,0.05],[2015.65,0.05,0.05],[2015.72,0.7,0.7],[2015.81,0.05,0.05],[2016.1,0.3,0.3],[2016.17,1.55,1.7],[2016.25,0.3,0.3],[2016.43,0.05,0.05],[2016.5,0.78,0.78],[2016.59,0.05,0.05],[2017.1,0.2,0.2],[2017.21,1.6,1.6],[2017.33,1.55,1.55],[2017.43,0.3,0.3],[2017.65,0.1,0.1],[2017.73,0.72,0.72],[2017.82,0.3,0.3],[2017.91,0.8,0.8],[2018.01,0.3,0.3],[2018.21,1.0,1.0],[2018.33,2.7,2.7],[2018.45,1.3,1.3],[2018.57,0.8,0.8],[2018.66,0.1,0.1],[2019.0,0.05,0.05]];
const upper1039=[[2004.1,0.02,0.02],[2004.31,0.02,0.12],[2004.37,0.02,0.05],[2004.85,0.02,0.08],[2005.04,0.02,0.12],[2005.12,0.1,0.15],[2005.22,0.67,0.77],[2005.29,0.25,0.5],[2005.38,0.65,1.0],[2005.46,0.62,0.7],[2005.54,0.2,0.3],[2005.64,0.62,0.75],[2005.73,0.6,0.7],[2005.82,0.1,0.2],[2005.9,0.62,0.72],[2005.97,0.05,0.1],[2006.09,0.02,0.15],[2006.22,0.68,0.7],[2006.31,0.05,0.1],[2006.43,0.02,0.15],[2006.56,0.62,0.77],[2006.63,0.05,0.1],[2006.79,0.02,0.22],[2006.88,0.02,0.05],[2006.97,0.1,0.1],[2007.25,2.0,2.0],[2007.34,4.0,4.05],[2007.46,3.6,3.7],[2007.58,2.3,2.35],[2007.66,1.55,1.6],[2007.74,2.7,2.75],[2007.82,1.3,1.35],[2007.95,1.0,1.0],[2008.3,2.0,2.0],[2008.43,4.5,4.5],[2008.55,4.4,4.4],[2008.63,2.2,2.27],[2008.7,1.65,1.7],[2008.85,2.5,2.55],[2009.0,3.3,3.35],[2009.09,1.2,1.22],[2009.16,0.1,0.12],[2009.33,0.1,0.2],[2009.42,0.65,0.8],[2009.52,0.63,0.7],[2009.6,0.05,0.15],[2009.72,0.02,0.15],[2009.88,0.02,0.1],[2010.0,0.68,0.75],[2010.08,0.72,0.78],[2010.16,0.3,0.35],[2010.25,0.7,0.75],[2010.34,0.68,0.72],[2010.42,0.67,0.83],[2010.51,0.6,0.65],[2010.57,0.1,0.1],[2010.67,0.62,0.7],[2010.74,0.05,0.05],[2011.09,0.02,0.25],[2011.21,0.02,0.1],[2011.35,0.05,0.1],[2011.42,0.66,0.75],[2011.49,0.05,0.05],[2011.7,0.05,0.05],[2011.76,0.62,0.72],[2011.83,0.05,0.05],[2012.09,0.02,0.2],[2012.18,0.05,0.1],[2012.24,0.7,0.72],[2012.3,0.2,0.2],[2012.43,1.25,1.28],[2012.54,0.3,0.3],[2012.66,0.62,0.63],[2012.78,0.62,0.67],[2012.88,0.1,0.1],[2013.08,0.1,0.1],[2013.15,0.7,0.72],[2013.23,0.2,0.2],[2013.35,0.7,0.78],[2013.43,0.1,0.1],[2013.57,0.02,0.12],[2013.75,0.05,0.05],[2013.84,0.63,0.68],[2013.91,0.2,0.2],[2014.02,0.66,0.76],[2014.09,0.1,0.1],[2014.18,0.02,0.22],[2014.27,0.1,0.1],[2014.42,0.67,0.68],[2014.54,0.65,0.65],[2014.64,0.63,0.64],[2014.72,0.05,0.05],[2014.96,0.02,0.14],[2015.1,0.02,0.02],[2015.45,0.02,0.12],[2015.56,0.05,0.05],[2015.63,0.63,0.63],[2015.73,0.05,0.05],[2015.99,0.02,0.1],[2016.14,0.2,0.2],[2016.2,1.9,2.0],[2016.27,0.15,0.15],[2016.48,0.02,0.12],[2016.58,0.02,0.02],[2017.0,0.02,0.02],[2017.2,0.02,0.26],[2017.38,0.02,0.2],[2017.56,0.05,0.05],[2017.63,0.64,0.7],[2017.69,0.05,0.05],[2017.81,0.02,0.1],[2018.17,0.02,0.22],[2018.35,0.02,0.34],[2018.54,0.02,0.2],[2018.72,0.02,0.08],[2019.0,0.02,0.05]];
const upper1091=[[2004.1,0.02,0.02],[2005.1,0.02,0.05],[2005.22,0.1,0.15],[2005.32,0.1,0.1],[2005.48,0.65,0.68],[2005.59,0.05,0.08],[2005.71,0.02,0.06],[2005.83,0.02,0.1],[2005.95,0.02,0.08],[2006.2,0.02,0.15],[2006.3,0.02,0.05],[2006.54,0.02,0.09],[2006.62,0.02,0.02],[2006.85,0.02,0.02],[2006.93,0.02,0.1],[2007.17,0.02,0.02],[2007.21,0.02,2.45],[2007.25,0.02,0.02],[2009.1,0.13,0.2],[2009.2,0.05,0.12],[2009.32,0.7,0.72],[2009.4,0.68,0.7],[2009.5,0.05,0.05],[2009.66,0.63,0.63],[2009.74,0.05,0.05],[2010.05,0.05,0.15],[2010.15,0.72,0.77],[2010.23,0.15,0.17],[2010.33,0.1,0.17],[2010.42,0.1,0.1],[2010.48,1.8,1.85],[2010.6,0.63,0.68],[2010.67,0.1,0.1],[2011.09,0.2,0.2],[2011.17,1.87,1.87],[2011.26,0.1,0.1],[2011.33,0.68,0.72],[2011.45,0.65,0.68],[2011.52,0.1,0.1],[2011.66,1.78,1.78],[2011.74,0.05,0.05],[2012.07,0.1,0.1],[2012.16,1.3,1.3],[2012.25,0.1,0.1],[2012.43,0.1,0.1],[2012.52,0.66,0.7],[2012.59,0.05,0.05],[2012.68,0.02,0.1],[2012.82,0.1,0.1],[2012.92,1.81,1.81],[2013.01,0.06,0.06],[2013.17,0.02,0.2],[2013.33,0.72,0.76],[2013.41,0.06,0.06],[2013.75,0.1,0.1],[2013.84,0.65,0.69],[2013.9,0.1,0.1],[2014.0,1.27,1.31],[2014.08,0.1,0.1],[2014.51,0.02,0.15],[2014.69,0.02,0.06],[2015.34,0.1,0.1],[2015.43,0.7,0.7],[2015.51,0.08,0.08],[2015.67,0.02,0.1],[2015.76,0.1,0.1],[2015.83,0.65,0.65],[2015.92,0.08,0.08],[2016.16,0.02,0.33],[2016.26,0.02,0.2],[2016.32,0.02,0.02],[2017.51,0.1,0.1],[2017.59,0.67,0.71],[2017.69,0.1,0.1],[2018.02,0.15,0.15],[2018.09,0.77,0.77],[2018.18,0.2,0.2],[2019.0,0.02,0.02]];

// observed counts: [count, [years]]
const obs871=[[3,[2008.35,2009.01,2011.51,2018.01]],[2,[2006.25,2009.52,2009.98,2010.06,2010.31,2010.43,2010.75,2011.26,2012.16,2012.41,2013.0,2013.26,2013.52]],[1,[2005.3,2005.42,2006.31,2006.4,2006.48,2006.55,2006.62,2007.08,2007.32,2007.44,2007.56,2007.68,2007.83,2008.1,2008.23,2008.47,2008.59,2008.71,2008.94,2009.63,2009.73,2010.27,2010.6,2011.74,2012.02,2012.34,2012.51,2012.68,2013.07,2013.34,2013.82,2014.06,2014.4,2014.52,2014.66,2014.78,2014.9,2015.0,2015.1,2015.35,2015.76,2015.99,2016.25,2016.67,2017.08,2017.49,2017.89,2018.03,2018.15,2018.3]]];
const obs902=[[8,[2017.2]],[7,[2012.38,2012.51,2018.38]],[6,[2011.33,2016.27,2017.54,2017.63]],[5,[2016.36]],[4,[2007.19,2007.4,2008.24,2008.89,2009.58,2010.5,2011.23,2011.66,2011.84,2014.69,2015.45,2017.28,2018.47]],[3,[2007.12,2007.48,2007.66,2008.33,2008.43,2009.33,2010.16,2011.42,2011.91,2012.58,2013.49,2013.6,2014.26,2016.02,2016.66,2016.78,2017.02,2017.14,2017.35,2017.69,2017.81,2018.2,2018.56,2018.66]],[2,[2005.05,2005.38,2005.5,2005.8,2006.27,2006.4,2006.65,2006.95,2007.07,2007.54,2007.74,2007.86,2008.16,2008.49,2008.64,2008.81,2009.15,2009.3,2009.42,2010.0,2010.28,2010.4,2010.51,2010.62,2011.09,2011.17,2011.57,2011.73,2012.0,2012.34,2012.84,2013.27,2013.67,2014.52,2014.87,2015.21,2015.75,2015.93,2016.17,2016.48,2016.56,2016.94,2018.03,2018.29,2018.75,2018.87,2018.98]],[1,[2005.62,2005.74,2006.14,2006.45,2006.57,2007.34,2007.97,2008.09,2008.56,2008.99,2009.09,2009.48,2009.6,2009.72,2009.84,2010.1,2010.64,2010.76,2010.85,2012.09,2012.21,2012.66,2013.33,2013.45,2014.18,2014.42,2014.54,2014.67,2014.78,2014.9,2015.05,2015.35,2015.69,2016.14,2016.6,2017.45,2017.94,2018.07,2018.72]]];
const obs862=[[5,[2011.91]],[4,[2011.49,2011.72,2018.34]],[3,[2008.09,2008.18,2009.41,2010.32,2012.31,2013.23,2013.41,2014.23,2014.39,2014.54,2014.66,2016.22,2016.41,2017.67,2018.48,2018.91]],[2,[2009.32,2010.23,2010.75,2011.39,2011.58,2011.98,2013.57,2014.17,2015.06,2016.65,2016.83,2017.08,2017.41,2017.75,2018.12,2018.24]],[1,[2006.22,2006.56,2007.3,2007.38,2007.51,2008.0,2008.4,2008.67,2008.97,2009.07,2009.16,2009.25,2009.56,2009.68,2009.8,2009.93,2010.01,2010.42,2010.5,2010.6,2010.84,2011.09,2011.33,2011.82,2012.15,2012.49,2012.58,2012.82,2012.92,2014.08,2014.51,2014.76,2014.88,2015.0,2015.24,2015.65,2015.79,2015.92,2016.16,2016.31,2016.47,2016.59,2016.71,2016.89,2017.17,2017.48,2017.62,2018.09,2018.43,2018.55,2018.67,2018.79,2018.89,2019.0]]];
const obs955=[[14,[2010.33]],[10,[2009.43]],[8,[2007.35,2009.09,2010.01]],[7,[2005.34,2007.24,2007.5,2008.35]],[6,[2005.16,2005.25,2007.59,2008.26,2010.25]],[5,[2006.44,2007.84,2008.67,2009.25,2009.85]],[4,[2006.06,2006.18,2006.3,2007.77,2008.1,2008.59,2008.91,2009.07,2009.19,2009.34,2009.55,2009.67,2010.51,2010.75,2010.93,2011.33,2012.41]],[3,[2005.1,2005.42,2005.6,2005.84,2006.76,2006.99,2007.18,2007.42,2007.95,2008.19,2008.5,2009.52,2010.57,2010.69,2011.17,2012.26,2012.38]],[2,[2005.51,2006.0,2006.5,2006.6,2006.85,2007.08,2007.68,2008.43,2008.77,2010.43,2010.84,2011.21,2011.33,2011.44,2012.58,2013.13,2013.26,2013.38,2014.75,2017.33]],[1,[2004.77,2005.64,2005.72,2005.82,2005.94,2006.34,2006.66,2006.93,2009.73,2009.83,2009.95,2010.07,2010.19,2010.97,2011.09,2011.51,2011.75,2011.99,2012.65,2012.86,2012.98,2013.07,2013.92,2014.4,2014.52,2014.63,2014.93,2015.26,2015.59,2016.32,2016.89,2017.09,2017.41,2017.83,2018.3,2018.4,2018.51,2018.61]]];
const obs928=[[15,[2011.34]],[11,[2007.81,2008.57]],[9,[2007.41,2009.41,2010.51,2011.16]],[8,[2006.23,2007.31,2008.49,2010.34,2011.51,2012.0,2012.36,2012.46]],[7,[2006.39,2009.21,2009.31,2009.49,2010.24,2010.99,2011.25,2011.6,2012.52]],[6,[2006.65,2006.82,2007.14,2007.74,2008.73,2013.11,2013.6,2014.2]],[5,[2005.06,2005.56,2006.48,2006.74,2007.23,2008.21,2008.33,2008.87,2008.99,2009.73,2010.08,2010.42,2010.64,2011.63,2011.76,2012.09,2012.58]],[4,[2005.61,2005.7,2005.82,2006.07,2006.16,2006.57,2007.91,2008.39,2008.67,2008.83,2009.79,2009.9,2011.42,2012.24,2012.88,2012.97,2013.06,2013.43,2017.45]],[3,[2005.3,2006.97,2007.09,2007.45,2007.58,2008.06,2009.06,2009.18,2010.16,2010.57,2010.82,2011.82,2011.94,2013.15,2013.27,2013.81,2013.93,2014.06,2014.26,2014.58,2014.78,2015.18,2015.29,2015.53,2015.93,2016.33,2016.54,2017.11,2017.29,2017.68,2018.01]],[2,[2005.1,2005.18,2005.35,2005.41,2005.97,2006.31,2006.89,2007.66,2008.0,2008.16,2009.66,2010.73,2010.91,2012.18,2012.78,2013.51,2014.42,2014.69,2015.02,2015.42,2015.56,2015.69,2015.83,2015.96,2016.08,2016.2,2016.41,2016.6,2016.72,2016.82,2017.38,2017.71,2017.8,2017.9,2018.02,2018.23]],[1,[2004.88,2005.46,2005.88,2009.58,2010.0,2012.66,2012.84,2013.24,2013.67,2014.09,2014.52,2014.78,2014.9,2015.05,2015.33,2015.66,2015.78,2016.84,2016.96,2017.2,2017.63,2017.96,2018.23,2018.35,2018.47,2018.75,2018.87,2018.98]]];
const obs1011=[[3,[2010.15,2015.51,2016.41]],[2,[2005.04,2005.24,2007.05,2007.4,2007.75,2008.23,2008.55,2009.32,2009.5,2009.83,2011.21,2011.33,2012.25,2013.23,2013.41,2014.91,2016.16,2016.47,2016.61,2018.83]],[1,[2005.38,2005.5,2006.1,2006.2,2006.3,2006.41,2006.56,2006.91,2007.3,2007.42,2007.57,2008.31,2008.73,2009.05,2009.16,2009.28,2009.4,2009.65,2009.93,2010.02,2010.54,2010.66,2010.78,2010.9,2011.0,2011.09,2011.17,2011.48,2011.64,2011.82,2012.07,2012.86,2012.98,2013.11,2013.19,2013.33,2013.59,2014.08,2015.39,2016.71,2016.77,2018.06]]];
const obs924=[[8,[2005.34]],[5,[2007.5]],[4,[2005.76,2006.76,2008.42,2018.25]],[3,[2005.58,2006.1,2006.48,2006.6,2006.84,2007.08,2007.42,2009.25]],[2,[2005.13,2005.22,2005.3,2005.42,2005.82,2005.94,2006.3,2006.42,2006.93,2007.32,2007.83,2007.98,2008.1,2008.23,2008.83,2009.15,2009.34,2009.58,2009.75,2011.26,2011.65,2012.41,2014.06,2016.07,2017.13,2017.25,2018.33]],[1,[2004.25,2004.82,2004.94,2005.04,2005.13,2005.67,2006.26,2007.18,2007.56,2007.66,2007.78,2008.25,2008.59,2009.4,2009.52,2009.97,2010.07,2010.17,2010.27,2010.37,2010.48,2010.66,2011.29,2011.41,2011.53,2011.63,2011.98,2012.08,2012.23,2012.35,2013.24,2013.5,2014.27,2014.93,2015.66,2016.17,2016.41,2017.07,2017.34,2017.67,2017.83,2018.07,2018.37,2018.51,2018.99]]];
const obs1039=[[4,[2008.4]],[3,[2006.89,2016.11]],[2,[2007.4,2007.64,2007.7,2008.23,2009.0,2012.34]],[1,[2005.1,2005.19,2005.29,2005.39,2005.48,2005.58,2005.68,2005.8,2006.14,2006.46,2007.12,2007.22,2007.36,2007.48,2007.99,2008.56,2008.81,2009.09,2009.31,2009.43,2009.94,2010.04,2010.16,2010.27,2010.39,2010.51,2010.62,2011.33,2011.67,2012.15,2012.42,2012.54,2012.66,2012.78,2013.09,2013.24,2013.75,2013.93,2014.3,2014.42,2014.54,2015.59,2017.54]]];
const obs1091=[[3,[2010.42,2011.09,2011.58,2012.84]],[2,[2012.09,2013.93]],[1,[2005.4,2009.19,2009.32,2009.56,2010.07,2010.45,2010.57,2011.13,2011.25,2011.42,2012.41,2012.74,2013.25,2013.74,2015.34,2015.76,2017.51,2018.02]]];

// panel titles, y-axis maxima and tick labels
const panelIds=["871","902","862","955","928","1011","924","1039","1091"];
const yMax=[3,8,5,14,15,3,8,4,3];
const yTicks=[[0,0.5,1,1.5,2,2.5,3],[0,2,4,6,8],[0,1,2,3,4,5],[0,2,4,6,8,10,12,14],[0,5,10,15],[0,0.5,1,1.5,2,2.5,3],[0,2,4,6,8],[0,1,2,3,4],[0,0.5,1,1.5,2,2.5,3]];
const yFormat=[".1f","d","d","d","d",".1f","d","d",".1f"];
const xTicks=[2005,2010,2015];
const legendLabels=["spatiotemporal","autoregressive","endemic"];

// ---------------- DRAW ----------------
const COL={st:"#ffa500",ar:"#0433ff",en:"#d9d9d9"};
const endemics=[endemic871,endemic902,endemic862,endemic955,endemic928,endemic1011,endemic924,endemic1039,endemic1091];
const uppers=[upper871,upper902,upper862,upper955,upper928,upper1011,upper924,upper1039,upper1091];
const observed=[obs871,obs902,obs862,obs955,obs928,obs1011,obs924,obs1039,obs1091];

const colX=[84,738.5,1403.5], rowY=[33.3,669.3,1305.8], W=554.5, H=512.7;
const ylabX=[13,675.7,1331.5,20.7,675.7,1331.5,20,675.7,1331.5];
const FS=22.5;
const svg=d3.select("#chart");
const defs=svg.append("defs");

panelIds.forEach((id,i)=>{
  const bx=colX[i%3], by=rowY[Math.floor(i/3)];
  const en=endemics[i], up=uppers[i];
  const ext=d3.extent(en,d=>d[0]); const pad=(ext[1]-ext[0])*0.04;
  const x=d3.scaleLinear().domain([ext[0]-pad,ext[1]+pad]).range([bx,bx+W]);
  const ym=yMax[i];
  const y=d3.scaleLinear().domain([-0.04*ym,1.04*ym]).range([by+H,by]);
  defs.append("clipPath").attr("id","clip"+i).append("rect").attr("x",bx).attr("y",by).attr("width",W).attr("height",H);
  const g=svg.append("g");
  const ga=g.append("g").attr("clip-path",`url(#clip${i})`);
  ga.append("path").datum(up).attr("fill",COL.st)
    .attr("d",d3.area().x(d=>x(d[0])).y0(y(0)).y1(d=>y(d[2])));
  ga.append("path").datum(up).attr("fill",COL.ar)
    .attr("d",d3.area().x(d=>x(d[0])).y0(y(0)).y1(d=>y(d[1])));
  ga.append("path").datum(en).attr("fill",COL.en)
    .attr("d",d3.area().curve(d3.curveMonotoneX).x(d=>x(d[0])).y0(y(0)).y1(d=>y(d[1])));
  const pts=observed[i].flatMap(([c,ts])=>ts.map(t=>[t,c]));
  ga.selectAll("circle").data(pts).join("circle")
    .attr("cx",d=>x(d[0])).attr("cy",d=>y(d[1])).attr("r",4.3).attr("fill","#000");

  // axes
  const ay=g.append("g").attr("transform",`translate(${bx},0)`)
    .call(d3.axisLeft(y).tickValues(yTicks[i]).tickFormat(d3.format(yFormat[i])).tickSize(13.5).tickPadding(8));
  const ax=g.append("g").attr("transform",`translate(0,${by+H})`)
    .call(d3.axisBottom(x).tickValues(xTicks).tickFormat(d3.format("d")).tickSize(13.5).tickPadding(10.5));
  [ay,ax].forEach(a=>{
    a.select(".domain").remove();
    a.selectAll(".tick line").attr("stroke","#000").attr("stroke-width",2);
    a.selectAll(".tick text").attr("font-size",FS).attr("font-family",'"Liberation Sans",Arial,sans-serif').attr("fill","#000");
  });
  // box
  g.append("rect").attr("x",bx).attr("y",by).attr("width",W).attr("height",H)
    .attr("fill","none").attr("stroke","#000").attr("stroke-width",2);
  // title
  g.append("text").attr("x",bx+W/2).attr("y",by-9.3).attr("text-anchor","middle")
    .attr("font-size",26).attr("font-weight","bold").text(id);
  // y label
  g.append("text").attr("transform",`translate(${ylabX[i]},${by+H/2}) rotate(-90)`)
    .attr("text-anchor","middle").attr("dy","0.35em").attr("font-size",FS).text("No. infected");

  if(i===0){
    const lg=g.append("g");
    const cols=[COL.st,COL.ar,COL.en];
    legendLabels.forEach((lab,k)=>{
      const ly=by+39.1+k*27.6;
      lg.append("line").attr("x1",bx+318.5).attr("x2",bx+359.5).attr("y1",ly).attr("y2",ly)
        .attr("stroke",cols[k]).attr("stroke-width",13).attr("stroke-linecap","round");
      lg.append("text").attr("x",bx+380.3).attr("y",ly).attr("dy","0.35em").attr("font-size",FS).text(lab);
    });
  }
});
</script>
</body></html>
